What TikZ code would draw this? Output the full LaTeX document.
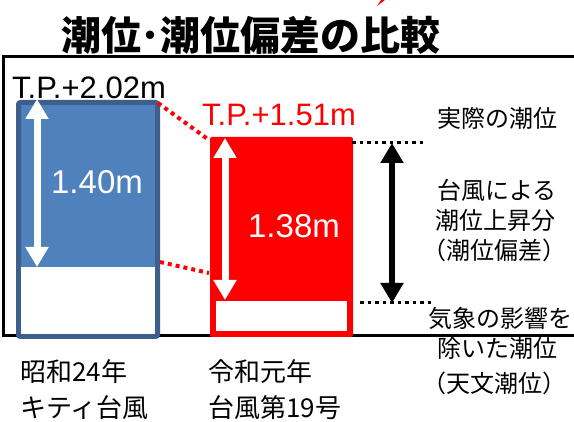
\documentclass[tikz,border=0pt]{standalone}
\usepackage{fontspec}
\setmainfont{Liberation Sans}
\newfontfamily\jp{Noto Sans CJK JP}
\usepackage{xcolor}
\usetikzlibrary{arrows.meta}
\definecolor{kittyblue}{HTML}{4F81BD}
\definecolor{kittyedge}{HTML}{3C5F8C}

\begin{document}
\begin{tikzpicture}[x=1pt,y=-1pt,
    bigarrow/.style={line width=7pt,{Triangle[width=22pt,length=20pt]}-{Triangle[width=22pt,length=20pt]}},
    reddots/.style={red,line width=4pt,dash pattern=on 4pt off 4pt},
    blackdots/.style={black,line width=3pt,dash pattern=on 3.5pt off 4pt},
    numlabel/.style={inner sep=0pt,font=\fontsize{33}{36}\selectfont},
    tplabel/.style={inner sep=0pt,font=\fontsize{31}{34}\selectfont},
    jplabel/.style={inner sep=0pt,font=\jp\fontsize{24}{30}\selectfont},
    yearlabel/.style={inner sep=0pt,anchor=west,font=\jp\fontsize{26}{30}\selectfont}]
      \useasboundingbox(0,0)rectangle(574,422);
      \fill[white](0,0)rectangle(574,422);
      \draw(251,35)node[inner sep=0pt,font=\jp\bfseries\fontsize{40}{42}\selectfont](title){潮位･潮位偏差の比較};
      \fill[red](377,6)--(381,0)--(385,0)--cycle;
      \draw[line width=3pt](576,57)--(3.5,57)--(3.5,336)--(576,336);
      % blue box (1949)
      \draw[kittyedge,line width=5pt,fill=kittyblue,rounded corners=2pt](18.5,102.5)rectangle(157.5,336.5);
      \fill[white](21,267)rectangle(155,334);
      % red box (2019)
      \fill[red,rounded corners=2pt](210,137)rectangle(353,337);
      \fill[white](216,301)rectangle(347,331);
      \coordinate(btop)at(37,99);
      \coordinate(bbot)at(37,267);
      \coordinate(rtop)at(225,138);
      \coordinate(rbot)at(225,300);
      \coordinate(ktop)at(392,143);
      \coordinate(kbot)at(392,303);
      \draw[bigarrow,white](btop)--(bbot);
      \draw[bigarrow,white](rtop)--(rbot);
      \draw[bigarrow,black,line width=6pt](ktop)--(kbot);
      \draw[reddots](158,103)--(209,140);
      \draw[reddots](160,262)--(209,273);
      \draw[blackdots](352,143)--(425,143);
      \draw[blackdots](360,303)--(432,303);
      \draw(97,182)node[numlabel,white](h140){1.40m};
      \draw(294,226)node[numlabel,white](h138){1.38m};
      \draw(89,88)node[tplabel](tp202){T.P.+2.02m};
      \draw(279,115)node[tplabel,red](tp151){T.P.+1.51m};
      \draw(497,118)node[jplabel](actual){実際の潮位};
      \draw(497,190)node[jplabel](surge1){台風による};
      \draw(495,220)node[jplabel](surge2){潮位上昇分};
      \draw(494,250)node[jplabel](surge3){（潮位偏差）};
      \draw(500,318)node[jplabel](astro1){気象の影響を};
      \draw(497,348)node[jplabel](astro2){除いた潮位};
      \draw(494,383)node[jplabel](astro3){（天文潮位）};
      \draw(20,372)node[yearlabel](kitty1){昭和24年};
      \draw(20,408)node[yearlabel](kitty2){キティ台風};
      \draw(208,372)node[yearlabel](hagibis1){令和元年};
      \draw(208,408)node[yearlabel](hagibis2){台風第19号};
    \end{tikzpicture}
\end{document}
